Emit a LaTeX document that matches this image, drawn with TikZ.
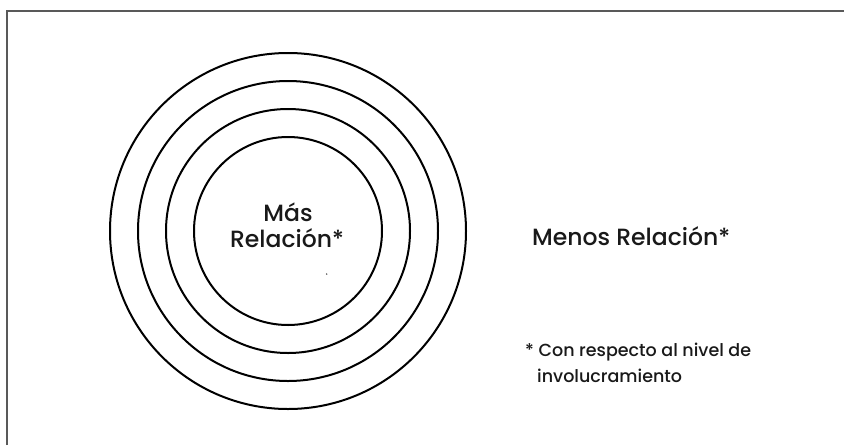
\documentclass[tikz,border=0pt]{standalone}
\usepackage{fontspec}
\setmainfont{Poppins}[UprightFont=* Medium]
\begin{document}
\begin{tikzpicture}[x=1pt,y=-1pt,
  ring/.style={draw=black,line width=2pt},
  bigtxt/.style={font=\fontsize{23.5}{28}\selectfont,text=black!90,inner sep=0pt},
  smalltxt/.style={font=\fontsize{17.5}{26}\selectfont,text=black!90,inner sep=0pt,align=left},
  frameline/.style={draw=black!65,line width=2pt}]
\useasboundingbox (0,0) rectangle (844,445);
\fill[white] (0,0) rectangle (844,445);
\coordinate (tl) at (7,11);
\coordinate (tr) at (844,11);
\coordinate (bl) at (7,445);
\draw[frameline] (bl) -- (tl) -- (tr);
\coordinate (c) at (288,231);
\node[ring,circle,minimum size=356pt,inner sep=0pt] (r4) at (c) {};
\node[ring,circle,minimum size=300pt,inner sep=0pt] (r3) at (c) {};
\node[ring,circle,minimum size=244pt,inner sep=0pt] (r2) at (c) {};
\node[ring,circle,minimum size=188pt,inner sep=0pt] (r1) at (c) {};
\node[bigtxt,anchor=base] (mas) at (288,221.5) {Más};
\node[bigtxt,anchor=base] (rel) at (287,247.5) {Relación*};
\node[bigtxt,anchor=base west] (menos) at (532,245.5) {Menos Relación*};
\node[smalltxt,anchor=base west] (note1) at (525,356.5) {* Con respecto al nivel de};
\node[smalltxt,anchor=base west] (note2) at (537,382.5) {involucramiento};
\fill[black!70] (326.7,274) circle (0.8pt);
\end{tikzpicture}
\end{document}
